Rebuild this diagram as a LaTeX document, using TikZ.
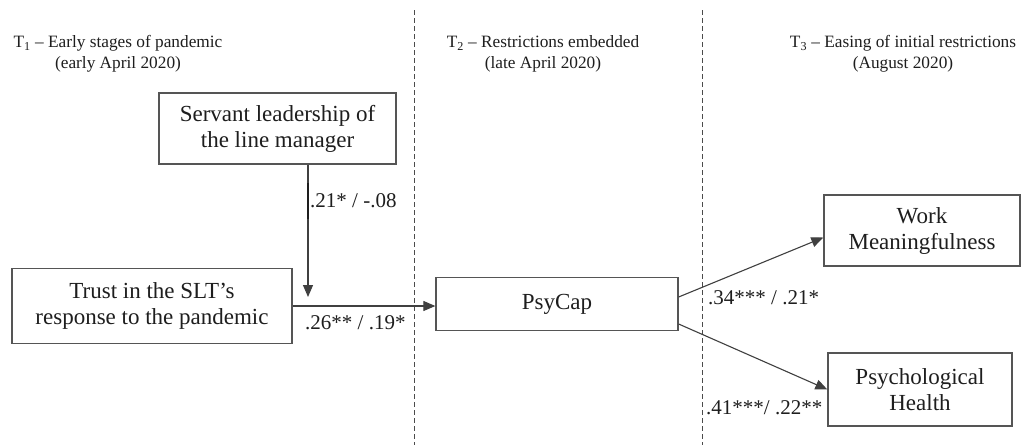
\documentclass[tikz,border=0pt]{standalone}
\usepackage{fontspec}
\setmainfont{Liberation Serif}
\usetikzlibrary{arrows.meta,calc}
\definecolor{ink}{HTML}{1E1E1E}
\definecolor{boxline}{HTML}{555555}
\begin{document}
\begin{tikzpicture}[x=1pt,y=-1pt,
  box/.style={draw=boxline,line width=1.3pt,inner sep=0pt,align=center,
    font=\fontsize{23}{26}\selectfont,text=ink},
  head/.style={align=center,font=\fontsize{17.3}{21}\selectfont,text=ink,inner sep=0pt},
  coef/.style={font=\fontsize{21}{24}\selectfont,text=ink,inner sep=0pt},
  conn/.style={draw=ink!85,line width=1.1pt,-{Triangle[length=12pt,width=10pt]}},
  sep/.style={draw=ink!80,line width=0.9pt,dash pattern=on 5pt off 3pt}]
\useasboundingbox[fill=white] (0,0) rectangle (1022,445);
% separators
\coordinate (s1t) at (414,10);
\coordinate (s1b) at (414,445);
\coordinate (s2t) at (702,10);
\coordinate (s2b) at (702,445);
\draw[sep] (s1t) -- (s1b);
\draw[sep] (s2t) -- (s2b);
% headers
\node[head] (h1) at (118,54) {T\textsubscript{1} – Early stages of pandemic\\(early April 2020)};
\node[head] (h2) at (543,54) {T\textsubscript{2} – Restrictions embedded\\(late April 2020)};
\node[head] (h3) at (903,54) {T\textsubscript{3} – Easing of initial restrictions\\(August 2020)};
% boxes
\node[box,minimum width=237pt,minimum height=71pt] (servant) at (277.5,128.5) {Servant leadership of\\the line manager};
\node[box,minimum width=280pt,minimum height=75pt] (trust) at (152,306) {Trust in the SLT’s\\response to the pandemic};
\node[box,minimum width=242pt,minimum height=53pt] (psycap) at (557,304) {PsyCap};
\node[box,minimum width=196pt,minimum height=71pt] (work) at (922,230.5) {Work\\Meaningfulness};
\node[box,minimum width=184pt,minimum height=73pt] (health) at (920,389.5) {Psychological\\Health};
% connectors
\coordinate (vtip) at (308,297);
\draw[conn] (vtip |- servant.south) -- (vtip);
\draw[draw=ink,line width=2.2pt] (308,183) -- (308,219);
\draw[conn] (trust.east) -- (trust.east -| psycap.west);
\draw[conn] ($(psycap.east)+(0,-7)$) -- ($(work.west)+(0,7)$);
\draw[conn] ($(psycap.east)+(0,20)$) -- ($(health.west)+(0,0)$);
% coefficients
\node[coef,anchor=west] (c1) at (310,201) {.21* / -.08};
\node[coef,anchor=west] (c2) at (305,323) {.26** / .19*};
\node[coef,anchor=west] (c3) at (708,298) {.34*** / .21*};
\node[coef,anchor=west] (c4) at (706,408) {.41***/ .22**};
\end{tikzpicture}
\end{document}
